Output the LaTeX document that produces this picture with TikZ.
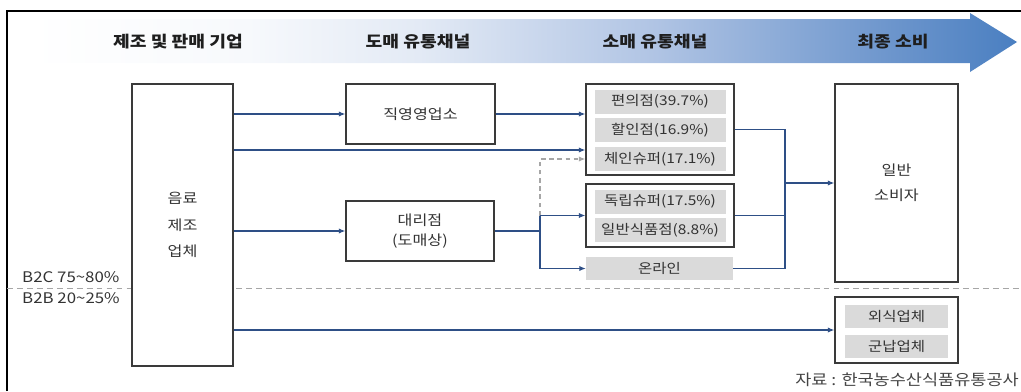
\documentclass[tikz,border=0pt]{standalone}
\usepackage{fontspec}
\setmainfont{Noto Sans CJK KR}[FakeStretch=1.15]
\usetikzlibrary{arrows.meta}
\definecolor{connblue}{HTML}{2E4F86}
\definecolor{boxline}{HTML}{3A3A3A}
\definecolor{itemgray}{HTML}{DADADA}
\definecolor{sepgray}{HTML}{A6A6A6}
\definecolor{txt}{HTML}{333333}
\definecolor{hdrtxt}{HTML}{1E1E1E}
\definecolor{srctxt}{HTML}{444444}
\definecolor{bannerblue}{HTML}{4A7FC1}
\definecolor{bsa}{HTML}{F7F9FC}
\definecolor{bsb}{HTML}{E3EAF5}
\definecolor{bsc}{HTML}{B0C4E4}
\definecolor{bsd}{HTML}{6C95CC}
\pgfdeclarehorizontalshading{banner}{100bp}{color(0bp)=(white); color(25bp)=(white); color(36bp)=(bsa); color(44.7bp)=(bsb); color(56.7bp)=(bsc); color(68.7bp)=(bsd); color(75bp)=(bannerblue); color(100bp)=(bannerblue)}
\newcommand\pxu[1]{#1*0.03cm}
\begin{document}
\begin{tikzpicture}[x=0.03cm,y=-0.03cm,
  box/.style={draw=boxline,line width=1.2pt,fill=white,inner sep=0pt,text=txt,align=center,font=\fontsize{12}{14}\selectfont},
  item/.style={fill=itemgray,inner sep=0pt,text=txt,font=\fontsize{11.5}{14}\selectfont},
  conn/.style={draw=connblue,line width=0.9pt},
  arr/.style={conn,-{Latex[length=5.5pt,width=4.5pt]}},
  dasharr/.style={draw=sepgray,line width=0.9pt,dash pattern=on 4pt off 3pt,-{Latex[length=5.5pt,width=4.5pt]}},
  hdr/.style={font=\bfseries\fontsize{13.5}{16}\selectfont,text=hdrtxt},
  side/.style={anchor=west,font=\fontsize{12.5}{14}\selectfont,text=txt,inner sep=0pt}]
\useasboundingbox (0,0) rectangle (1021,391);
% banner arrow
\shade[shading=banner] (30,19) -- (970,19) -- (970,13) -- (1017,42) -- (970,72) -- (970,63) -- (30,63) -- cycle;
% frame
\draw[line width=1.5pt] (7,391) -- (7,11) -- (1021,11);
% headers
\node[hdr] (h1) at (178,42) {제조 및 판매 기업};
\node[hdr] (h2) at (418,42) {도매 유통채널};
\node[hdr] (h3) at (655,42) {소매 유통채널};
\node[hdr] (h4) at (893,42) {최종 소비};
% separator
\draw[sepgray,line width=0.8pt,dash pattern=on 5pt off 3.5pt] (7,288) -- (1021,288);
\node[side] (b2c) at (22,277) {B2C 75\textasciitilde80\%};
\node[side] (b2b) at (22,298) {B2B 20\textasciitilde25\%};
% boxes
\node[box,minimum width=\pxu{101},minimum height=\pxu{282},font=\fontsize{12}{22.6}\selectfont] (maker) at (182.5,225) {음료\\제조\\업체};
\node[box,minimum width=\pxu{149},minimum height=\pxu{60}] (direct) at (420.5,114) {직영영업소};
\node[box,minimum width=\pxu{148},minimum height=\pxu{60},font=\fontsize{12}{17}\selectfont] (agent) at (420,231) {대리점\\(도매상)};
\node[box,minimum width=\pxu{148},minimum height=\pxu{91}] (g1) at (660,129.5) {};
\node[item,minimum width=\pxu{131},minimum height=\pxu{24}] (i1) at (660,101.5) {편의점(39.7\%)};
\node[item,minimum width=\pxu{131},minimum height=\pxu{24}] (i2) at (660,130) {할인점(16.9\%)};
\node[item,minimum width=\pxu{131},minimum height=\pxu{24}] (i3) at (660,159) {체인슈퍼(17.1\%)};
\node[box,minimum width=\pxu{148},minimum height=\pxu{63}] (g2) at (660,215.5) {};
\node[item,minimum width=\pxu{131},minimum height=\pxu{24}] (i4) at (660,201.5) {독립슈퍼(17.5\%)};
\node[item,minimum width=\pxu{131},minimum height=\pxu{24}] (i5) at (660,230) {일반식품점(8.8\%)};
\node[item,minimum width=\pxu{147},minimum height=\pxu{23}] (online) at (659.5,268.5) {온라인};
\node[box,minimum width=\pxu{123},minimum height=\pxu{198},font=\fontsize{12}{21}\selectfont] (consumer) at (896.5,183) {일반\\소비자};
\node[box,minimum width=\pxu{123},minimum height=\pxu{66}] (g3) at (896.5,330) {};
\node[item,minimum width=\pxu{103},minimum height=\pxu{23}] (i6) at (896.5,316) {외식업체};
\node[item,minimum width=\pxu{103},minimum height=\pxu{23}] (i7) at (896.5,346.5) {군납업체};
% source
\node[anchor=east,font=\fontsize{13}{15}\selectfont,text=srctxt,inner sep=0pt] (src) at (1019,380) {자료 : 한국농수산식품유통공사};
% connectors
\coordinate (y150) at (0,150);
\coordinate (bus) at (540,231);
\coordinate (rb) at (785,183);
\draw[arr] (direct.west -| maker.east) -- (direct.west);
\draw[arr] (direct.east) -- (direct.east -| g1.west);
\draw[arr] (maker.east |- y150) -- (g1.west |- y150);
\draw[arr] (agent.west -| maker.east) -- (agent.west);
\draw[conn] (agent.east) -- (bus);
\draw[dasharr] (bus |- g2.west) |- (g1.west |- i3);
\draw[arr] (bus |- g2.west) -- (g2.west);
\draw[arr] (bus |- g2.west) |- (online.west);
\draw[conn] (g1.east) -| (rb |- online.east) -- (online.east);
\draw[conn] (g2.east) -- (rb |- g2.east);
\draw[arr] (rb) -- (consumer.west);
\draw[arr] (g3.west -| maker.east) -- (g3.west);
\end{tikzpicture}
\end{document}
